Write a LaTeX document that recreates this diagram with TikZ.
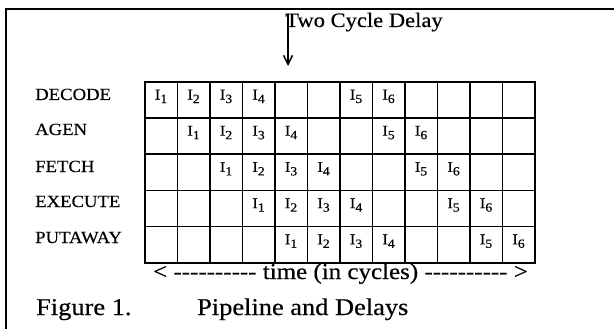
\documentclass[tikz,border=0pt]{standalone}
\usepackage{fontspec}
\setmainfont{Liberation Serif}[FakeStretch=1.1,FakeBold=0.4]
\newfontfamily\plainfont{Liberation Serif}[FakeStretch=1.1,FakeBold=0.4,Ligatures=TeXOff]
\usetikzlibrary{arrows.meta}
\newcommand\isub[1]{\raisebox{-3.5pt}{\fontsize{12.5}{12.5}\selectfont #1}}
\begin{document}
\begin{tikzpicture}[x=1pt,y=-1pt,
  cell/.style={draw,line width=1.6pt,minimum width=32.5pt,minimum height=36.2pt,
    inner sep=0pt,anchor=north west},
  itext/.style={anchor=base,inner sep=0pt,font=\fontsize{15}{17}\selectfont},
  lab/.style={anchor=base west,inner sep=0pt,font=\fontsize{17}{20}\selectfont},
  bigtext/.style={anchor=base west,inner sep=0pt,font=\fontsize{24}{28}\selectfont},
  frame/.style={line width=2pt}]
\useasboundingbox (0,0) rectangle (614,329);
% frame (open on right and bottom)
\draw[frame] (6,329) -- (6,9) -- (614,9);
% grid cells
\foreach \r in {0,...,4}{
  \foreach \k in {0,...,11}{
    \node[cell] (c-\r-\k) at ({144+32.5*\k},{81+36.2*\r}) {};
  }
}
% cell contents
\foreach \r in {0,...,4}{
  \foreach \i/\o in {1/0,2/1,3/2,4/3,5/6,6/7}{
    \pgfmathtruncatemacro\k{\r+\o}
    \node[itext] (t-\r-\i) at ([yshift=-18.5pt]c-\r-\k.north) {I\isub{\i}};
  }
}
% row labels
\node[lab] (l-decode) at (35,100) {DECODE};
\node[lab] (l-agen) at (35,135) {AGEN};
\node[lab] (l-fetch) at (35,172) {FETCH};
\node[lab] (l-execute) at (35,207) {EXECUTE};
\node[lab] (l-putaway) at (35,243) {PUTAWAY};
% delay annotation
\node[anchor=base west,inner sep=0pt,font=\fontsize{20.5}{24}\selectfont] (title) at (285,27) {Two Cycle Delay};
\coordinate (atop) at (288,14);
\coordinate (atip) at (288,66);
\draw[line width=1.5pt,-{Straight Barb[length=9pt,width=9pt,line width=1.5pt]}] (atop) -- (atip);
% time axis
\node[anchor=base,inner sep=0pt,font=\plainfont\fontsize{22.7}{26}\selectfont] (time) at (340.5,279)
  {< ---------- time (in cycles) ---------- >};
% caption
\node[bigtext] (fig) at (36,315) {Figure 1.};
\node[bigtext] (cap) at (197,315) {Pipeline and Delays};
\end{tikzpicture}
\end{document}
